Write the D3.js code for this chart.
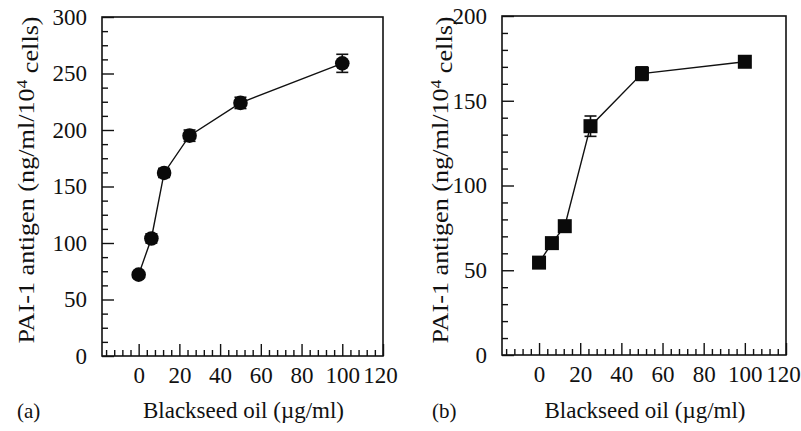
<!DOCTYPE html>
<html>
<head>
<meta charset="utf-8">
<script src="https://cdn.jsdelivr.net/npm/d3@7"></script>
<style>
  body { margin: 0; background: #fff; }
  svg { display: block; }
</style>
</head>
<body>
<svg id="chart" width="801" height="431"></svg>
<script>
// concentrations of blackseed oil (ug/ml)
const doses = [0, 6.25, 12.5, 25, 50, 100];
// PAI-1 antigen, panel (a)
const antigenA = [72, 104, 162, 195, 224, 259];
const errA = [2, 4, 4, 5, 5, 8];
// PAI-1 antigen, panel (b)
const antigenB = [54.5, 66, 76, 135, 166, 173];
const errB = [2, 3, 3, 6, 4, 3];

const xTicks = [0, 20, 40, 60, 80, 100, 120];
const yTicksA = [0, 50, 100, 150, 200, 250, 300];
const yTicksB = [0, 50, 100, 150, 200];

const FONT = "Liberation Serif";
const ink = "#111";

const svg = d3.select("#chart").style("font-family", FONT);

function drawPanel(opt) {
    const x = d3.scaleLinear().domain([-18, 120]).range([opt.left, opt.right]);
    const y = d3.scaleLinear().domain([0, opt.yMax]).range([opt.bottom, opt.top]);
    const g = svg.append("g");

    // minor ticks
    const xMinor = d3.range(-16, 120, 4).filter(v => v % 20 !== 0);
    const yMinor = d3.range(0, opt.yMax, opt.yMinorStep).filter(v => v % 50 !== 0);

    g.append("g")
        .attr("transform", `translate(0, ${opt.bottom})`)
        .call(d3.axisBottom(x).tickValues(xMinor).tickSize(-6).tickFormat(""))
        .call(a => a.select(".domain").remove());
    g.append("g")
        .attr("transform", `translate(${opt.left}, 0)`)
        .call(d3.axisLeft(y).tickValues(yMinor).tickSize(-6).tickFormat(""))
        .call(a => a.select(".domain").remove());

    // major ticks with labels
    const xAxis = g.append("g")
        .attr("transform", `translate(0, ${opt.bottom})`)
        .call(d3.axisBottom(x).tickValues(xTicks).tickSize(-12).tickPadding(12));
    const yAxis = g.append("g")
        .attr("transform", `translate(${opt.left}, 0)`)
        .call(d3.axisLeft(y).tickValues(opt.yTicks).tickSize(-12).tickPadding(15));

    [xAxis, yAxis].forEach(a => {
        a.attr("font-family", FONT).attr("font-size", 23);
        a.select(".domain").remove();
        a.selectAll("text")
            .style("font-family", FONT)
            .style("font-size", "23px")
            .attr("fill", ink);
    });
    xAxis.selectAll("text").attr("dy", "0.71em").attr("y", 11)
        .attr("x", d => d === 120 ? -3 : 0);
    g.selectAll(".tick line").attr("stroke", ink).attr("stroke-width", 1.4);

    // frame
    g.append("rect")
        .attr("x", opt.left).attr("y", opt.top)
        .attr("width", opt.right - opt.left).attr("height", opt.bottom - opt.top)
        .attr("fill", "none").attr("stroke", ink).attr("stroke-width", 1.6);

    const pts = doses.map((d, i) => ({x: d, y: opt.values[i], e: opt.errors[i]}));

    // connecting line
    g.append("path")
        .datum(pts)
        .attr("fill", "none")
        .attr("stroke", ink)
        .attr("stroke-width", 1.4)
        .attr("d", d3.line().x(d => x(d.x)).y(d => y(d.y)));

    // error bars
    const eb = g.selectAll(".err").data(pts).enter().append("g").attr("class", "err")
        .attr("stroke", ink).attr("stroke-width", 1.6);
    eb.append("line")
        .attr("x1", d => x(d.x)).attr("x2", d => x(d.x))
        .attr("y1", d => y(d.y - d.e)).attr("y2", d => y(d.y + d.e));
    eb.append("line")
        .attr("x1", d => x(d.x) - 6).attr("x2", d => x(d.x) + 6)
        .attr("y1", d => y(d.y + d.e)).attr("y2", d => y(d.y + d.e));
    eb.append("line")
        .attr("x1", d => x(d.x) - 6).attr("x2", d => x(d.x) + 6)
        .attr("y1", d => y(d.y - d.e)).attr("y2", d => y(d.y - d.e));

    // markers
    if (opt.marker === "circle") {
        g.selectAll(".pt").data(pts).enter().append("circle")
            .attr("cx", d => x(d.x)).attr("cy", d => y(d.y)).attr("r", 7.3)
            .attr("fill", "#0a0a0a");
    } else {
        g.selectAll(".pt").data(pts).enter().append("rect")
            .attr("x", d => x(d.x) - 7).attr("y", d => y(d.y) - 7)
            .attr("width", 14).attr("height", 14)
            .attr("fill", "#0a0a0a");
    }

    // axis titles (the scanned label is stretched along its length)
    const yl = g.append("text")
        .attr("transform", `translate(${opt.yLabelX}, 180) rotate(-90) scale(1.14, 1)`)
        .attr("text-anchor", "middle")
        .attr("dy", "0.35em")
        .attr("fill", ink)
        .style("font-family", FONT)
        .style("font-size", "23px");
    yl.append("tspan").text("PAI-1 antigen (ng/ml/10");
    yl.append("tspan").text("4").attr("dy", "-0.45em").style("font-size", "15px");
    yl.append("tspan").text(" cells)").attr("dy", "0.45em");

    g.append("text")
        .attr("x", (opt.left + opt.right) / 2 + 1)
        .attr("y", 418)
        .attr("text-anchor", "middle")
        .attr("fill", ink)
        .style("font-family", FONT)
        .style("font-size", "23px")
        .text("Blackseed oil (\u00b5g/ml)");

    g.append("text")
        .attr("x", opt.tagX)
        .attr("y", 418)
        .attr("fill", ink)
        .style("font-family", FONT)
        .style("font-size", "21px")
        .text(opt.tag);
}

drawPanel({left: 102, right: 383, top: 17, bottom: 356, yMax: 300, yMinorStep: 12.5,
    yTicks: yTicksA, values: antigenA, errors: errA, marker: "circle",
    yLabelX: 26, tagX: 17, tag: "(a)"});
drawPanel({left: 502, right: 786, top: 16, bottom: 355, yMax: 200, yMinorStep: 10,
    yTicks: yTicksB, values: antigenB, errors: errB, marker: "square",
    yLabelX: 440, tagX: 432, tag: "(b)"});
</script>
</body>
</html>
